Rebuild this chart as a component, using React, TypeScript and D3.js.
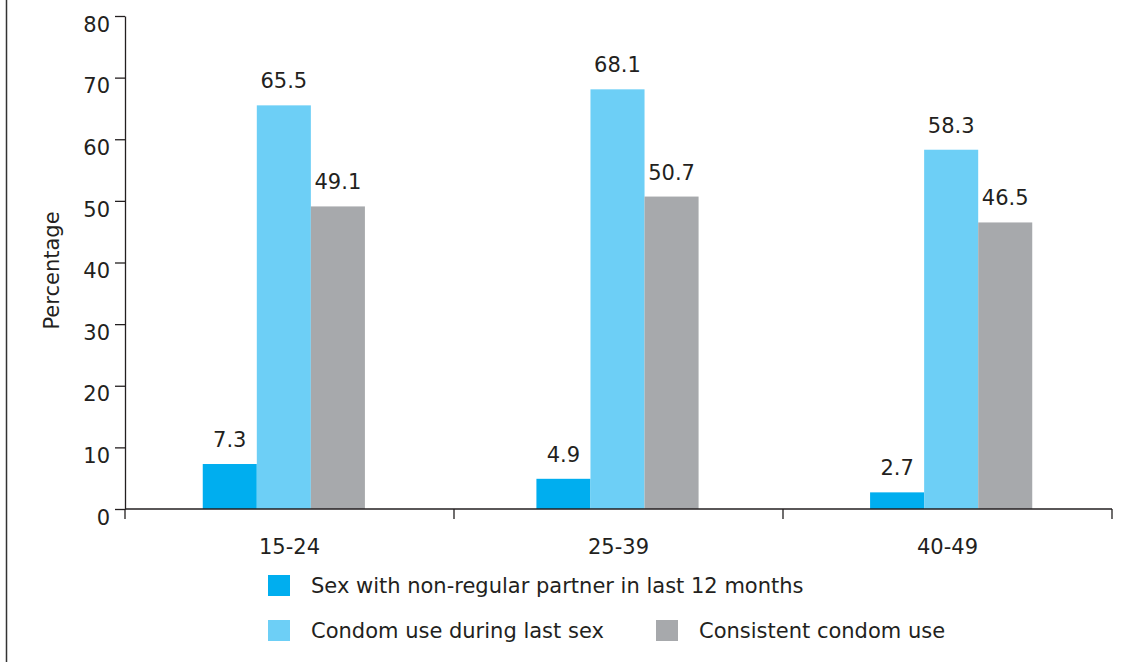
import React, { useEffect, useRef } from 'react';
import * as d3 from 'd3';

const categories = ['15-24', '25-39', '40-49'];
const seriesNames = [
  'Sex with non-regular partner in last 12 months',
  'Condom use during last sex',
  'Consistent condom use'
];
const nonRegular = [7.3, 4.9, 2.7];
const condomLast = [65.5, 68.1, 58.3];
const condomConsistent = [49.1, 50.7, 46.5];
const seriesColors = ['#00aeef', '#6dcff6', '#a7a9ac'];
const yTicks = [0, 10, 20, 30, 40, 50, 60, 70, 80];

const width = 1139;
const height = 662;
const font = '"DejaVu Sans", Verdana, sans-serif';
const fs = '21px';

const App = () => {
  const container = useRef(null);

  useEffect(() => {
    const svg = d3
      .select(container.current)
      .selectAll('svg')
      .data([0])
      .join('svg')
      .attr('width', width)
      .attr('height', height)
      .style('position', 'absolute')
      .style('left', 0)
      .style('top', 0)
      .style('font-family', font);

    svg.selectAll('*').remove();

    const margins = { l: 125, r: 1112, t: 16, b: 509 };

    // bars sit slightly off the tick-centred bands in the original
    const xScale = d3
      .scaleBand()
      .domain(categories)
      .range([117, 1118])
      .paddingInner(0.514)
      .paddingOuter(0.257);

    const xSub = d3
      .scaleBand()
      .domain(seriesNames)
      .range([0, xScale.bandwidth()]);

    const yScale = d3.scaleLinear().domain([0, 80]).range([margins.b, margins.t]);

    // left frame line
    svg
      .append('line')
      .attr('x1', 6.5)
      .attr('x2', 6.5)
      .attr('y1', 0)
      .attr('y2', height)
      .style('stroke', '#333')
      .style('stroke-width', 1.5);

    const data = [nonRegular, condomLast, condomConsistent];

    const groups = svg
      .selectAll('.grp')
      .data(categories)
      .join('g')
      .attr('class', 'grp')
      .attr('transform', d => `translate(${xScale(d)},0)`);

    groups.each(function (cat, ci) {
      const g = d3.select(this);
      seriesNames.forEach((s, si) => {
        const v = data[si][ci];
        g.append('rect')
          .attr('x', xSub(s))
          .attr('width', xSub.bandwidth())
          .attr('y', yScale(v))
          .attr('height', yScale(0) - yScale(v))
          .style('fill', seriesColors[si]);
        g.append('text')
          .attr('x', xSub(s) + xSub.bandwidth() / 2)
          .attr('y', yScale(v) - 17)
          .attr('text-anchor', 'middle')
          .style('font-size', fs)
          .style('fill', '#231f20')
          .text(v.toFixed(1));
      });
    });

    // y axis
    const yAxis = d3
      .axisLeft(yScale)
      .tickValues(yTicks)
      .tickSize(10)
      .tickPadding(5)
      .tickSizeOuter(0);
    const yg = svg
      .append('g')
      .attr('transform', `translate(${margins.l},0)`)
      .call(yAxis);
    yg.selectAll('path, line').style('stroke', '#231f20').style('stroke-width', 1.3);
    yg.selectAll('text')
      .style('font-size', fs)
      .style('font-family', font)
      .style('fill', '#231f20')
      .attr('dy', '0.72em');

    // x axis
    const xLin = d3.scaleLinear().domain([0, 3]).range([margins.l, margins.r]);
    const xg = svg.append('g').attr('transform', `translate(0,${margins.b})`);
    xg.append('line')
      .attr('x1', margins.l)
      .attr('x2', margins.r)
      .style('stroke', '#231f20')
      .style('stroke-width', 1.3);
    xg.selectAll('.xtick')
      .data(d3.range(4))
      .join('line')
      .attr('class', 'xtick')
      .attr('x1', d => xLin(d))
      .attr('x2', d => xLin(d))
      .attr('y1', 0)
      .attr('y2', 10)
      .style('stroke', '#231f20')
      .style('stroke-width', 1.3);
    xg.selectAll('.xlab')
      .data(categories)
      .join('text')
      .attr('class', 'xlab')
      .attr('x', (d, i) => (xLin(i) + xLin(i + 1)) / 2)
      .attr('y', 45)
      .attr('text-anchor', 'middle')
      .style('font-size', fs)
      .style('fill', '#231f20')
      .text(d => d);

    // y label
    svg
      .append('text')
      .attr('transform', `translate(59,${(margins.t + margins.b) / 2 + 8})rotate(-90)`)
      .attr('text-anchor', 'middle')
      .style('font-size', fs)
      .style('fill', '#231f20')
      .text('Percentage');

    // legend
    const legendItems = [
      { name: seriesNames[0], color: seriesColors[0], x: 268, y: 575 },
      { name: seriesNames[1], color: seriesColors[1], x: 268, y: 620 },
      { name: seriesNames[2], color: seriesColors[2], x: 656, y: 620 }
    ];
    const lg = svg
      .selectAll('.legend')
      .data(legendItems)
      .join('g')
      .attr('class', 'legend')
      .attr('transform', d => `translate(${d.x},${d.y})`);
    lg.append('rect')
      .attr('width', 22)
      .attr('height', 21)
      .style('fill', d => d.color);
    lg.append('text')
      .attr('x', 43)
      .attr('y', 18)
      .style('font-size', fs)
      .style('fill', '#231f20')
      .text(d => d.name);
  }, []);

  return <div className="chart-container" ref={container}></div>;
};

export default App;
